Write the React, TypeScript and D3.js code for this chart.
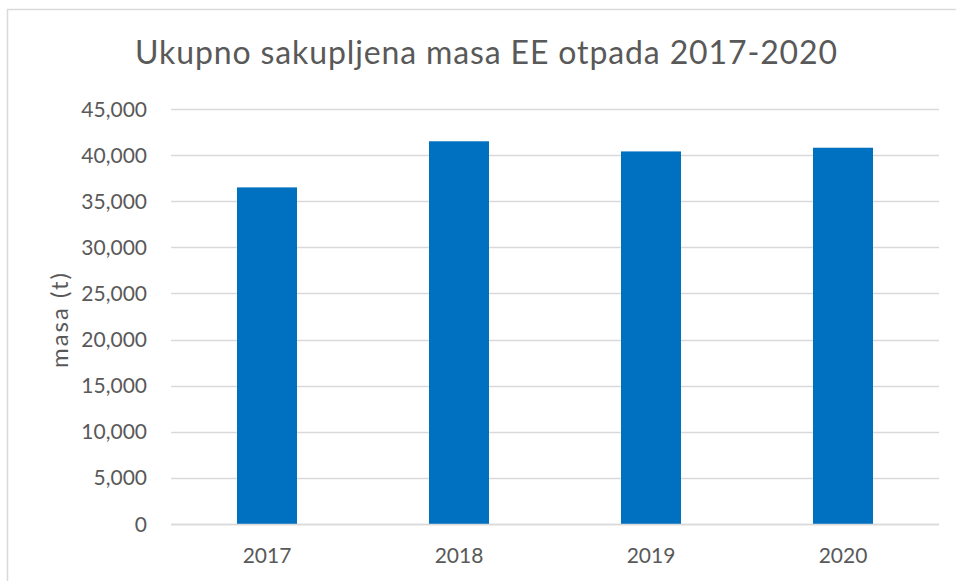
import React from "react";
import * as d3 from "d3";

const categories = ["2017", "2018", "2019", "2020"];
const values = [36500, 41500, 40400, 40800];
const yTicks = [0, 5000, 10000, 15000, 20000, 25000, 30000, 35000, 40000, 45000];
const title = "Ukupno sakupljena masa EE otpada 2017-2020";
const yLabel = "masa (t)";

const W = 956;
const H = 581;
const plot = { left: 171, right: 939, top: 109, bottom: 524 };
const font = "Lato, 'Open Sans', sans-serif";
const textColor = "#595959";

export default function App() {
  const x = d3
    .scaleBand<string>()
    .domain(categories)
    .range([plot.left, plot.right])
    .paddingInner(0.6875)
    .paddingOuter(0.34375);
  const y = d3.scaleLinear().domain([0, 45000]).range([plot.bottom, plot.top]);
  const fmt = d3.format(",");

  return (
    <svg
      width={W}
      height={H}
      style={{ position: "absolute", left: 0, top: 0, background: "#fff" }}
      fontFamily={font}
    >
      <rect x={0} y={0} width={W} height={H} fill="#fff" />
      <rect x={7.5} y={9.5} width={W + 20} height={H + 20} fill="#fff" stroke="#d9d9d9" strokeWidth={1.5} />
      <text
        x={135}
        y={64}
        fontSize={32}
        fill={textColor}
        textLength={702}
        lengthAdjust="spacing"
      >
        {title}
      </text>
      {yTicks.map((t) => (
        <g key={t}>
          <line
            x1={plot.left}
            x2={plot.right}
            y1={Math.round(y(t)) + 0.5}
            y2={Math.round(y(t)) + 0.5}
            stroke="#d9d9d9"
            strokeWidth={1.3}
          />
          <text
            x={147}
            y={y(t)}
            dy="0.36em"
            textAnchor="end"
            fontSize={21}
            fill={textColor}
          >
            {fmt(t)}
          </text>
        </g>
      ))}
      {categories.map((c, i) => (
        <rect
          key={c}
          x={x(c)}
          y={y(values[i])}
          width={x.bandwidth()}
          height={y(0) - y(values[i])}
          fill="#0070C0"
        />
      ))}
      <line
        x1={plot.left}
        x2={plot.right}
        y1={Math.round(y(0)) + 0.5}
        y2={Math.round(y(0)) + 0.5}
        stroke="#d9d9d9"
        strokeWidth={1.3}
      />
      {categories.map((c) => (
        <text
          key={c}
          x={(x(c) as number) + x.bandwidth() / 2}
          y={563}
          textAnchor="middle"
          fontSize={21}
          fill={textColor}
        >
          {c}
        </text>
      ))}
      <text
        transform={`translate(68, 368) rotate(-90)`}
        fontSize={24}
        fill={textColor}
        textLength={95}
        lengthAdjust="spacing"
      >
        {yLabel}
      </text>
    </svg>
  );
}
